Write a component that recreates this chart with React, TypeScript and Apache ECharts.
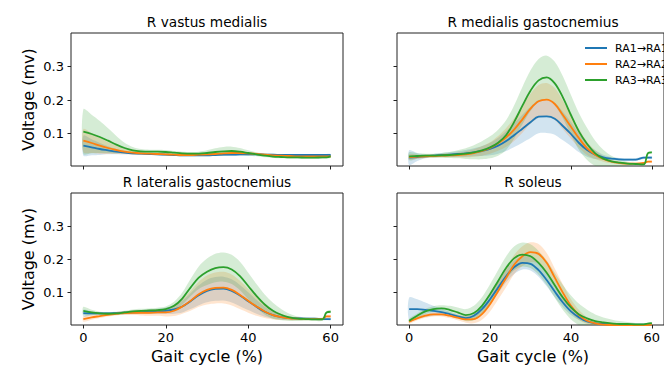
import React, { useEffect, useRef } from "react";
import * as echarts from "echarts";

// ---- data ----
const X = [0, 2, 4, 6, 8, 10, 12, 14, 16, 18, 20, 22, 24, 26, 28, 30, 32, 34, 36, 38, 40, 42, 44, 46, 48, 50, 52, 54, 56, 58, 59, 60];
const SERIES_NAMES = ["RA1→RA1", "RA2→RA2", "RA3→RA3"];
const COLORS = ["#1f77b4", "#ff7f0e", "#2ca02c"];
const BAND_COLORS = ["rgba(31,119,180,0.2)", "rgba(255,127,14,0.2)", "rgba(44,160,44,0.2)"];
const PANEL_TITLES = ["R vastus medialis", "R medialis gastocnemius", "R lateralis gastocnemius", "R soleus"];
const X_TICKS = [0, 20, 40, 60];
const Y_TICKS = [0.1, 0.2, 0.3];
const X_LABEL = "Gait cycle (%)";
const Y_LABEL = "Voltage (mv)";

// R vastus medialis
const VM_RA1_MEAN = [0.063,0.058,0.053,0.049,0.045,0.042,0.040,0.039,0.038,0.037,0.036,0.035,0.034,0.034,0.034,0.034,0.035,0.036,0.036,0.037,0.037,0.037,0.036,0.036,0.035,0.035,0.035,0.035,0.035,0.035,0.035,0.035];
const VM_RA1_STD = [0.030,0.024,0.018,0.012,0.008,0.005,0.004,0.003,0.003,0.003,0.003,0.003,0.003,0.003,0.003,0.003,0.003,0.004,0.004,0.004,0.004,0.003,0.003,0.003,0.003,0.003,0.003,0.003,0.003,0.003,0.003,0.003];
const VM_RA2_MEAN = [0.078,0.071,0.063,0.056,0.050,0.045,0.042,0.040,0.039,0.038,0.037,0.036,0.035,0.035,0.036,0.037,0.038,0.040,0.041,0.041,0.040,0.038,0.036,0.034,0.033,0.032,0.031,0.031,0.031,0.031,0.031,0.031];
const VM_RA2_STD = [0.035,0.030,0.024,0.018,0.012,0.008,0.006,0.005,0.004,0.004,0.004,0.004,0.004,0.004,0.004,0.004,0.005,0.005,0.005,0.005,0.004,0.004,0.004,0.004,0.004,0.004,0.004,0.004,0.004,0.004,0.004,0.004];
const VM_RA3_MEAN = [0.105,0.098,0.089,0.078,0.066,0.056,0.049,0.046,0.045,0.045,0.044,0.042,0.040,0.039,0.039,0.041,0.044,0.046,0.047,0.045,0.041,0.037,0.033,0.030,0.029,0.028,0.028,0.027,0.027,0.028,0.028,0.031];
const VM_RA3_STD = [0.067,0.058,0.048,0.037,0.026,0.016,0.010,0.007,0.006,0.006,0.006,0.005,0.005,0.005,0.006,0.008,0.011,0.013,0.013,0.011,0.008,0.006,0.005,0.004,0.004,0.004,0.004,0.004,0.004,0.004,0.004,0.004];

// R medialis gastocnemius
const MG_RA1_MEAN = [0.027,0.029,0.031,0.033,0.035,0.036,0.038,0.040,0.043,0.047,0.053,0.063,0.077,0.095,0.114,0.133,0.150,0.151,0.144,0.122,0.098,0.071,0.050,0.036,0.028,0.024,0.022,0.021,0.021,0.027,0.027,0.027];
const MG_RA1_STD = [0.022,0.012,0.006,0.005,0.006,0.007,0.008,0.010,0.012,0.015,0.019,0.024,0.030,0.036,0.042,0.047,0.050,0.050,0.048,0.043,0.036,0.028,0.020,0.013,0.008,0.005,0.004,0.004,0.004,0.004,0.004,0.004];
const MG_RA2_MEAN = [0.029,0.030,0.031,0.032,0.033,0.034,0.035,0.037,0.041,0.047,0.056,0.070,0.088,0.112,0.142,0.174,0.196,0.201,0.188,0.155,0.120,0.085,0.055,0.036,0.023,0.015,0.011,0.009,0.009,0.011,0.015,0.015];
const MG_RA2_STD = [0.008,0.006,0.005,0.005,0.005,0.006,0.007,0.009,0.011,0.014,0.017,0.022,0.028,0.034,0.040,0.045,0.049,0.050,0.048,0.043,0.036,0.028,0.020,0.013,0.008,0.005,0.004,0.003,0.003,0.003,0.003,0.003];
const MG_RA3_MEAN = [0.031,0.032,0.033,0.033,0.034,0.035,0.037,0.039,0.043,0.049,0.058,0.072,0.095,0.135,0.183,0.228,0.259,0.268,0.250,0.208,0.155,0.105,0.068,0.040,0.024,0.016,0.012,0.009,0.008,0.007,0.040,0.043];
const MG_RA3_STD = [0.012,0.008,0.006,0.006,0.007,0.009,0.012,0.016,0.021,0.027,0.033,0.039,0.045,0.050,0.056,0.061,0.064,0.065,0.065,0.063,0.060,0.055,0.048,0.038,0.027,0.017,0.010,0.006,0.004,0.003,0.003,0.003];

// R lateralis gastocnemius
const LG_RA1_MEAN = [0.038,0.037,0.037,0.037,0.038,0.039,0.040,0.041,0.042,0.043,0.045,0.049,0.058,0.074,0.092,0.105,0.111,0.112,0.105,0.091,0.074,0.057,0.042,0.032,0.026,0.023,0.022,0.021,0.021,0.020,0.020,0.020];
const LG_RA1_STD = [0.010,0.006,0.004,0.004,0.004,0.005,0.005,0.006,0.007,0.008,0.010,0.013,0.018,0.024,0.030,0.034,0.036,0.036,0.035,0.032,0.027,0.021,0.015,0.010,0.007,0.005,0.004,0.004,0.004,0.004,0.004,0.004];
const LG_RA2_MEAN = [0.020,0.025,0.029,0.033,0.036,0.038,0.039,0.039,0.039,0.040,0.040,0.045,0.058,0.075,0.095,0.108,0.114,0.115,0.108,0.093,0.075,0.058,0.043,0.032,0.026,0.022,0.021,0.020,0.020,0.020,0.028,0.028];
const LG_RA2_STD = [0.008,0.007,0.006,0.005,0.005,0.006,0.007,0.008,0.009,0.010,0.012,0.016,0.022,0.030,0.038,0.044,0.047,0.048,0.047,0.043,0.036,0.028,0.020,0.013,0.009,0.006,0.005,0.004,0.004,0.004,0.004,0.004];
const LG_RA3_MEAN = [0.045,0.040,0.037,0.036,0.037,0.040,0.043,0.045,0.046,0.047,0.050,0.060,0.082,0.115,0.145,0.163,0.174,0.177,0.170,0.150,0.120,0.090,0.064,0.045,0.033,0.025,0.021,0.020,0.019,0.019,0.040,0.042];
const LG_RA3_STD = [0.012,0.008,0.005,0.004,0.004,0.005,0.006,0.006,0.006,0.007,0.008,0.012,0.018,0.026,0.034,0.040,0.043,0.044,0.044,0.043,0.040,0.036,0.030,0.024,0.017,0.011,0.007,0.005,0.004,0.004,0.004,0.004];

// R soleus
const S_RA1_MEAN = [0.050,0.050,0.048,0.045,0.041,0.035,0.028,0.023,0.030,0.050,0.080,0.115,0.150,0.177,0.190,0.187,0.168,0.138,0.103,0.070,0.043,0.025,0.013,0.007,0.005,0.004,0.003,0.003,0.003,0.003,0.003,0.004];
const S_RA1_STD = [0.035,0.030,0.022,0.015,0.010,0.007,0.006,0.006,0.008,0.011,0.014,0.017,0.019,0.020,0.020,0.020,0.020,0.019,0.017,0.014,0.011,0.008,0.005,0.003,0.002,0.002,0.002,0.002,0.002,0.002,0.002,0.002];
const S_RA2_MEAN = [0.012,0.022,0.030,0.034,0.034,0.030,0.024,0.019,0.020,0.035,0.065,0.105,0.145,0.185,0.210,0.222,0.217,0.190,0.145,0.100,0.060,0.032,0.015,0.007,0.003,0.002,0.002,0.002,0.002,0.002,0.002,0.003];
const S_RA2_STD = [0.006,0.006,0.006,0.006,0.006,0.007,0.008,0.010,0.013,0.017,0.022,0.026,0.028,0.029,0.030,0.030,0.030,0.030,0.028,0.025,0.020,0.015,0.010,0.006,0.003,0.002,0.002,0.002,0.002,0.002,0.002,0.002];
const S_RA3_MEAN = [0.015,0.030,0.043,0.050,0.052,0.048,0.040,0.032,0.038,0.060,0.095,0.135,0.175,0.204,0.215,0.210,0.190,0.160,0.122,0.085,0.055,0.034,0.022,0.014,0.010,0.007,0.005,0.005,0.004,0.004,0.006,0.008];
const S_RA3_STD = [0.006,0.007,0.008,0.009,0.010,0.012,0.015,0.018,0.022,0.026,0.030,0.033,0.035,0.036,0.036,0.036,0.036,0.037,0.038,0.038,0.036,0.032,0.026,0.020,0.015,0.012,0.009,0.006,0.004,0.003,0.003,0.003];

const PANEL_MEANS = [
  [VM_RA1_MEAN, VM_RA2_MEAN, VM_RA3_MEAN],
  [MG_RA1_MEAN, MG_RA2_MEAN, MG_RA3_MEAN],
  [LG_RA1_MEAN, LG_RA2_MEAN, LG_RA3_MEAN],
  [S_RA1_MEAN, S_RA2_MEAN, S_RA3_MEAN],
];
const PANEL_STDS = [
  [VM_RA1_STD, VM_RA2_STD, VM_RA3_STD],
  [MG_RA1_STD, MG_RA2_STD, MG_RA3_STD],
  [LG_RA1_STD, LG_RA2_STD, LG_RA3_STD],
  [S_RA1_STD, S_RA2_STD, S_RA3_STD],
];

// ---- layout ----
const FONT = "DejaVu Sans";
const GRIDS = [
  { left: 71, top: 33, width: 272, height: 133 },
  { left: 397, top: 33, width: 272, height: 133 },
  { left: 71, top: 193, width: 272, height: 132 },
  { left: 397, top: 193, width: 272, height: 132 },
];

function buildOption() {
  const series: any[] = [];
  PANEL_MEANS.forEach((means, p) => {
    means.forEach((mean, s) => {
      const std = PANEL_STDS[p][s];
      series.push({
        type: "custom",
        xAxisIndex: p,
        yAxisIndex: p,
        data: [[X[0], mean[0]]],
        clip: true,
        silent: true,
        z: 1,
        renderItem: (_params: any, api: any) => {
          const pts: number[][] = [];
          for (let i = 0; i < X.length; i++) pts.push(api.coord([X[i], mean[i] + std[i]]));
          for (let i = X.length - 1; i >= 0; i--) pts.push(api.coord([X[i], mean[i] - std[i]]));
          return {
            type: "polygon",
            shape: { points: pts, smooth: 0.3 },
            style: { fill: BAND_COLORS[s], stroke: "none" },
          };
        },
      });
    });
    means.forEach((mean, s) => {
      series.push({
        type: "line",
        name: SERIES_NAMES[s],
        xAxisIndex: p,
        yAxisIndex: p,
        data: X.map((x, i) => [x, mean[i]]),
        symbol: "none",
        showSymbol: false,
        smooth: 0.35,
        lineStyle: { color: COLORS[s], width: 1.8 },
        itemStyle: { color: COLORS[s] },
        silent: true,
        z: 3,
      });
    });
  });

  const graphics: any[] = [];
  const txt = (text: string, size: number) => ({
    text,
    font: `${size}px '${FONT}'`,
    fill: "#000",
    align: "center",
    verticalAlign: "middle",
    textAlign: "center",
    textVerticalAlign: "middle",
  });
  PANEL_TITLES.forEach((t, i) => {
    const g = GRIDS[i];
    graphics.push({ type: "text", x: g.left + g.width / 2, y: g.top - 11, style: txt(t, 13.7) });
  });
  [0, 2].forEach((i) => {
    const g = GRIDS[i];
    graphics.push({ type: "text", x: 28, y: g.top + g.height / 2, rotation: Math.PI / 2, style: txt(Y_LABEL, 16) });
  });
  [2, 3].forEach((i) => {
    const g = GRIDS[i];
    graphics.push({ type: "text", x: g.left + g.width / 2, y: 356, style: txt(X_LABEL, 16) });
  });

  return {
    animation: false,
    backgroundColor: "#fff",
    textStyle: { fontFamily: FONT },
    grid: GRIDS.map((g) => ({ ...g, show: true, borderColor: "#222", borderWidth: 1, backgroundColor: "transparent" })),
    xAxis: GRIDS.map((_, i) => ({
      type: "value",
      gridIndex: i,
      min: -3,
      max: 63,
      axisLine: { show: false, onZero: false },
      splitLine: { show: false },
      axisTick: { show: true, customValues: X_TICKS, length: 3.5, lineStyle: { color: "#222", width: 1 } },
      axisLabel: { show: i >= 2, customValues: X_TICKS, margin: 6, fontSize: 13, color: "#000", fontFamily: FONT },
    })),
    yAxis: GRIDS.map((_, i) => ({
      type: "value",
      gridIndex: i,
      min: 0.002,
      max: 0.401,
      axisLine: { show: false, onZero: false },
      splitLine: { show: false },
      axisTick: { show: true, customValues: Y_TICKS, length: 3.5, lineStyle: { color: "#222", width: 1 } },
      axisLabel: {
        show: i % 2 === 0,
        customValues: Y_TICKS,
        margin: 7,
        fontSize: 13,
        color: "#000",
        fontFamily: FONT,
        formatter: (v: number) => v.toFixed(1),
      },
    })),
    legend: {
      data: SERIES_NAMES,
      orient: "vertical",
      left: 585,
      top: 41,
      padding: 0,
      itemWidth: 22,
      itemHeight: 2,
      itemGap: 2,
      icon: "rect",
      textStyle: { fontSize: 11, lineHeight: 14, fontFamily: FONT, color: "#000", padding: [0, 0, 0, 3] },
    },
    graphic: graphics,
    series,
  };
}

export default function App() {
  const ref = useRef<HTMLDivElement>(null);
  useEffect(() => {
    if (!ref.current) return;
    const chart = echarts.init(ref.current, null, { renderer: "svg" });
    chart.setOption(buildOption() as any);
    return () => chart.dispose();
  }, []);
  return <div ref={ref} style={{ position: "absolute", left: 0, top: 0, width: 664, height: 365 }} />;
}
